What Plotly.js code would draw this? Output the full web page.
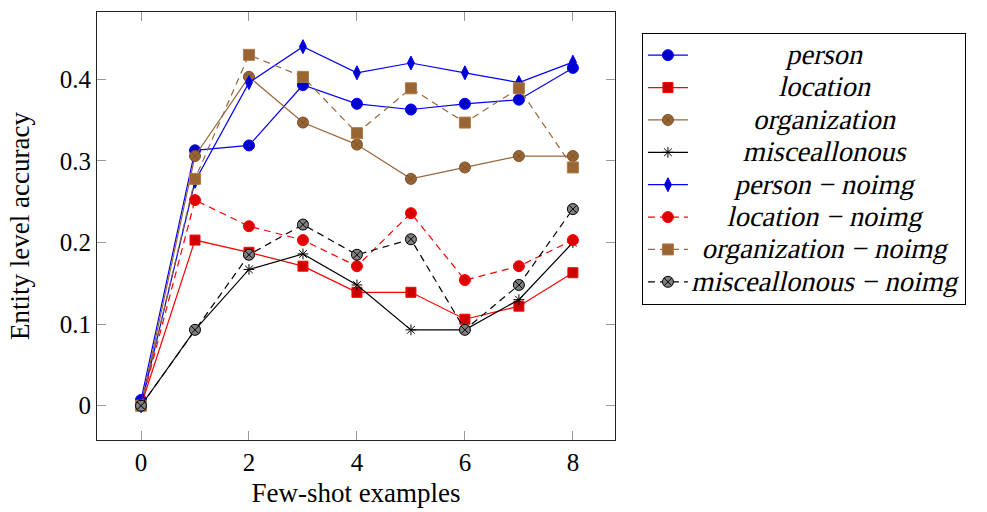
<!DOCTYPE html>
<html>
<head>
<meta charset="utf-8">
<script src="https://cdn.plot.ly/plotly-3.0.1.min.js"></script>
<style>html,body{margin:0;padding:0;background:#fff;}#chart{width:987px;height:512px;}</style>
</head>
<body>
<div id="chart"></div>
<script>
const shots = [0, 1, 2, 3, 4, 5, 6, 7, 8];
const personAcc       = [0.007, 0.313, 0.319, 0.393, 0.370, 0.363, 0.370, 0.375, 0.414];
const locationAcc     = [0, 0.203, 0.188, 0.171, 0.139, 0.139, 0.106, 0.122, 0.163];
const organizationAcc = [0, 0.306, 0.403, 0.347, 0.320, 0.278, 0.292, 0.306, 0.306];
const miscAcc         = [0, 0.093, 0.167, 0.186, 0.148, 0.093, 0.093, 0.130, 0.200];
const personNoimg     = [0, 0.275, 0.396, 0.440, 0.408, 0.420, 0.408, 0.396, 0.421];
const locationNoimg   = [0, 0.252, 0.220, 0.203, 0.171, 0.236, 0.154, 0.171, 0.203];
const orgNoimg        = [0, 0.278, 0.430, 0.403, 0.334, 0.389, 0.347, 0.389, 0.292];
const miscNoimg       = [0, 0.093, 0.185, 0.222, 0.185, 0.204, 0.093, 0.148, 0.241];
const names = ["person", "location", "organization", "misceallonous",
  "person − noimg", "location − noimg", "organization − noimg", "misceallonous − noimg"];
const xTicks = [0, 2, 4, 6, 8];
const yTicks = [0, 0.1, 0.2, 0.3, 0.4];
const yTickText = ["0", "0.1", "0.2", "0.3", "0.4"];

const DASH = "7px,5px";
function tr(y, name, lineColor, dash, symbol, size, fill, mline) {
  return {
    x: shots, y: y, name: '<span style="font-size:28.5px">' + name + '</span>',
    type: "scatter", mode: "lines+markers",
    line: {color: lineColor, width: 1.2, dash: dash},
    marker: {symbol: symbol, size: size, color: fill, line: {color: mline, width: 1}}
  };
}
const data = [
  tr(personAcc, names[0], "#0000ff", "solid", "circle", 11, "#0000cc", "#0000ff"),
  tr(locationAcc, names[1], "#ff0000", "solid", "square", 10, "#cc0000", "#ff0000"),
  tr(organizationAcc, names[2], "#99663c", "solid", "circle-x", 11, "#996633", "#7a5029"),
  tr(miscAcc, names[3], "#000000", "solid", "asterisk-open", 9, "#000000", "#000000"),
  tr(personNoimg, names[4], "#0000ff", "solid", "diamond-tall", 10, "#0000cc", "#0000ff"),
  tr(locationNoimg, names[5], "#ff0000", DASH, "circle", 11, "#dd0000", "#ff0000"),
  tr(orgNoimg, names[6], "#99663c", DASH, "square", 11, "#996633", "#b07a48"),
  tr(miscNoimg, names[7], "#000000", DASH, "circle-x", 11, "#808080", "#000000")
];
const serif = "Liberation Serif";
const layout = {
  width: 987, height: 512,
  margin: {l: 97, r: 372, t: 12, b: 72},
  paper_bgcolor: "#fff", plot_bgcolor: "#fff",
  font: {family: serif, color: "#000", size: 25},
  showlegend: true,
  xaxis: {
    range: [-0.815, 8.78], tickvals: xTicks, ticktext: xTicks.map(String),
    ticks: "inside", ticklen: 9, tickcolor: "#999", tickwidth: 1,
    showline: true, linecolor: "#222", linewidth: 1, mirror: "ticks",
    showgrid: false, zeroline: false,
    tickfont: {family: serif, size: 25},
    title: {text: "Few-shot examples", font: {family: serif, size: 27}, standoff: 8}
  },
  yaxis: {
    range: [-0.042, 0.4825], tickvals: yTicks, ticktext: yTickText,
    ticks: "inside", ticklen: 9, tickcolor: "#999", tickwidth: 1,
    showline: true, linecolor: "#222", linewidth: 1, mirror: "ticks",
    showgrid: false, zeroline: false,
    tickfont: {family: serif, size: 25},
    title: {text: "Entity level accuracy", font: {family: serif, size: 27}, standoff: 22}
  },
  legend: {
    x: 1.052, y: 0.951, xanchor: "left", yanchor: "top",
    bordercolor: "#000", borderwidth: 1, bgcolor: "#fff",
    font: {family: serif, size: 22.6},
    tracegroupgap: 0, itemwidth: 40
  }
};
Plotly.newPlot("chart", data, layout, {displayModeBar: false, staticPlot: true}).then(function () {
  // LaTeX math-italic look: centre each legend label and slant it
  const texts = Array.from(document.querySelectorAll(".legend .legendtext"));
  let maxW = 0;
  texts.forEach(t => { maxW = Math.max(maxW, t.getComputedTextLength()); });
  texts.forEach(t => {
    const x0 = parseFloat(t.getAttribute("x")) || 0;
    t.setAttribute("text-anchor", "middle");
    t.setAttribute("x", x0 + maxW / 2);
    t.setAttribute("transform", "skewX(-13)");
  });
});
</script>
</body>
</html>
